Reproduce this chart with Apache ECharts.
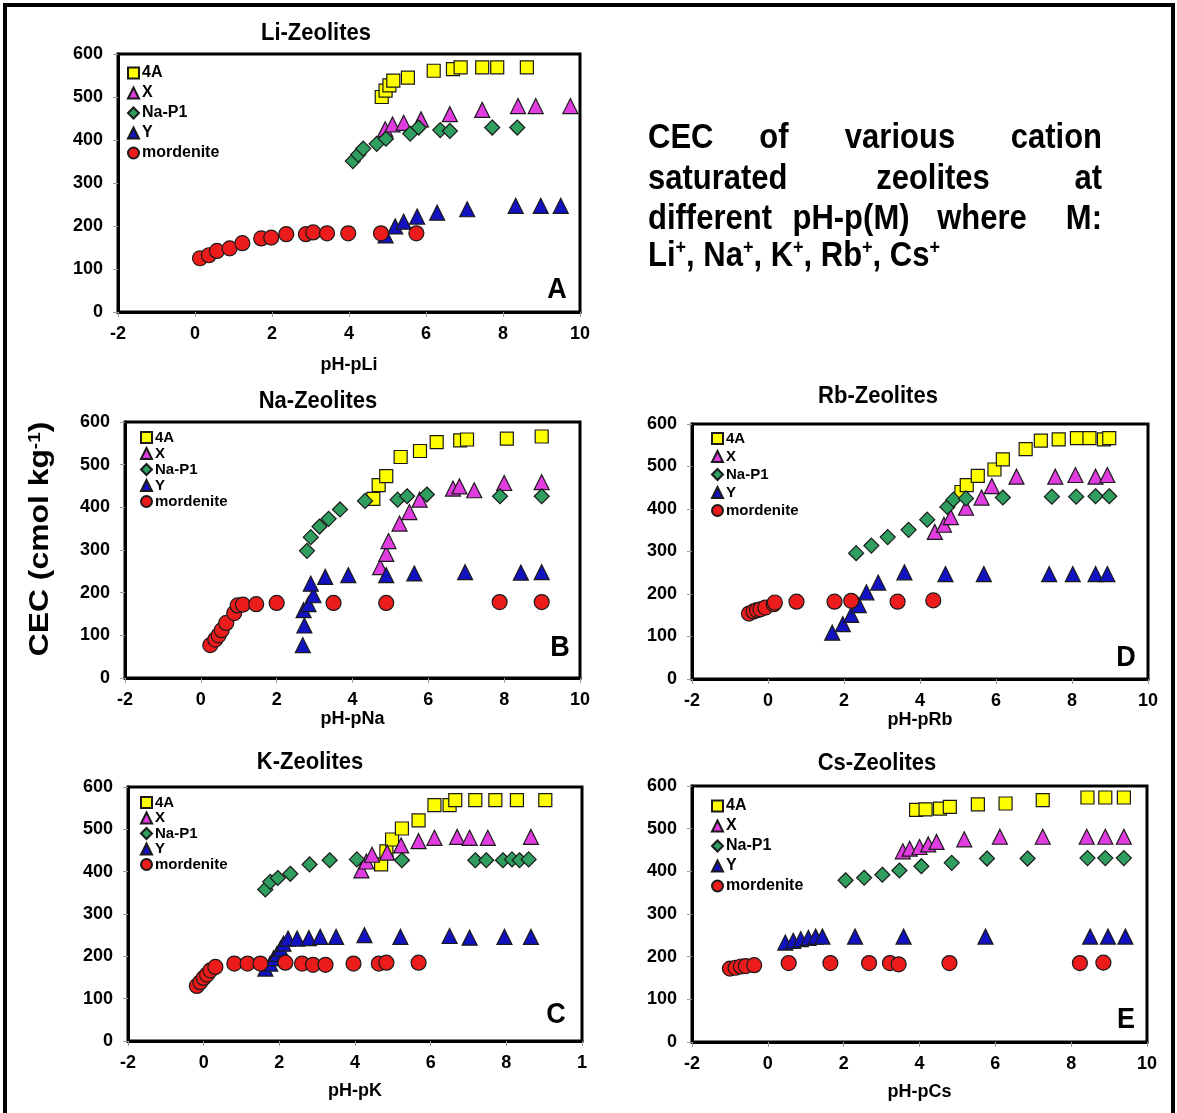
<!DOCTYPE html>
<html><head><meta charset="utf-8">
<script src="https://cdn.jsdelivr.net/npm/echarts@6/dist/echarts.min.js"></script>
<style>html,body{margin:0;padding:0;background:#fff}#c{width:1177px;height:1113px}</style>
</head><body><div id="c"></div>
<script>
// ---------------- DATA ----------------
const seriesNames = ['4A', 'X', 'Na-P1', 'Y', 'mordenite'];
const xTicks = [-2, 0, 2, 4, 6, 8, 10];
const yTicks = [0, 100, 200, 300, 400, 500, 600];

// Panel A : Li-Zeolites
const li4A   = [[4.85,500],[4.95,515],[5.05,527],[5.15,538],[5.53,545],[6.2,561],[6.7,565],[6.9,569],[7.46,569],[7.85,569],[8.62,569]];
const liX    = [[4.94,425],[5.13,436],[5.42,440],[5.87,448],[6.62,460],[7.46,470],[8.39,479],[8.85,479],[9.75,479]];
const liNaP1 = [[4.1,351],[4.24,366],[4.37,380],[4.72,391],[4.96,403],[5.59,415],[5.81,429],[6.37,423],[6.62,421],[7.72,429],[8.37,429]];
const liY    = [[4.95,178],[5.2,199],[5.42,210],[5.77,222],[6.29,231],[7.07,239],[8.33,247],[8.98,247],[9.5,247]];
const liMord = [[0.13,125],[0.36,132],[0.57,142],[0.9,148],[1.23,160],[1.72,171],[1.98,173],[2.37,181],[2.88,181],[3.07,185],[3.43,183],[3.98,183],[4.83,183],[5.75,183]];

// Panel B : Na-Zeolites
const na4A   = [[4.55,420],[4.69,452],[4.89,473],[5.27,518],[5.78,532],[6.22,553],[6.84,557],[7.02,559],[8.07,561],[8.99,566]];
const naX    = [[4.73,260],[4.89,291],[4.95,321],[5.24,362],[5.5,389],[5.77,418],[6.65,444],[6.82,449],[7.21,440],[8.0,457],[8.99,459]];
const naNaP1 = [[2.8,298],[2.9,330],[3.13,355],[3.37,373],[3.67,395],[4.33,415],[5.19,418],[5.44,426],[5.96,430],[7.89,426],[8.99,426]];
const naY    = [[2.69,77],[2.73,123],[2.71,159],[2.84,173],[2.97,194],[2.9,221],[3.28,237],[3.89,241],[4.89,241],[5.63,245],[6.97,248],[8.44,247],[8.99,248]];
const naMord = [[0.25,77],[0.38,90],[0.47,100],[0.55,112],[0.67,129],[0.88,152],[0.97,170],[1.11,172],[1.46,173],[2.0,176],[3.5,176],[4.89,176],[7.88,178],[8.99,178]];

// Panel C : K-Zeolites
const k4A   = [[4.69,417],[4.83,448],[4.98,476],[5.24,502],[5.68,521],[6.1,557],[6.5,557],[6.65,569],[7.18,569],[7.71,569],[8.28,569],[9.03,569]];
const kX    = [[4.17,403],[4.3,424],[4.45,440],[4.85,445],[5.22,462],[5.68,472],[6.1,480],[6.7,482],[7.03,480],[7.51,480],[8.65,482]];
const kNaP1 = [[1.63,358],[1.76,376],[1.96,385],[2.29,395],[2.8,417],[3.33,427],[4.05,429],[5.24,427],[7.18,427],[7.47,427],[7.91,427],[8.15,429],[8.35,427],[8.59,429]];
const kY    = [[1.63,171],[1.76,183],[1.85,196],[1.94,206],[2.03,218],[2.11,230],[2.23,242],[2.47,242],[2.78,243],[3.08,246],[3.5,246],[4.25,250],[5.2,246],[6.5,248],[7.03,244],[7.95,246],[8.65,246]];
const kMord = [[-0.18,130],[-0.09,139],[0,149],[0.09,157],[0.18,167],[0.31,175],[0.81,183],[1.16,183],[1.5,183],[2.16,185],[2.6,183],[2.89,180],[3.22,180],[3.96,183],[4.63,183],[4.83,185],[5.68,185]];

// Panel D : Rb-Zeolites
const rb4A   = [[5.09,440],[5.23,456],[5.52,478],[5.96,493],[6.18,517],[6.78,541],[7.18,561],[7.65,564],[8.13,567],[8.46,567],[8.84,564],[8.98,567]];
const rbX    = [[4.39,346],[4.63,363],[4.81,381],[5.21,403],[5.62,427],[5.89,454],[6.54,476],[7.56,476],[8.09,480],[8.62,476],[8.93,480]];
const rbNaP1 = [[2.32,296],[2.72,314],[3.15,334],[3.7,351],[4.19,375],[4.72,405],[4.88,422],[5.21,425],[6.18,427],[7.47,429],[8.11,429],[8.62,430],[8.98,430]];
const rbY    = [[1.69,109],[1.97,129],[2.19,151],[2.39,174],[2.59,204],[2.9,227],[3.59,251],[4.67,247],[5.68,247],[7.4,247],[8.02,247],[8.62,247],[8.93,247]];
const rbMord = [[-0.5,154],[-0.38,159],[-0.29,162],[-0.2,164],[-0.07,168],[0.15,176],[0.18,180],[0.75,182],[1.75,182],[2.19,184],[3.41,182],[4.35,185]];

// Panel E : Cs-Zeolites
const cs4A   = [[3.91,544],[4.16,545],[4.54,547],[4.8,551],[5.54,557],[6.27,559],[7.25,567],[8.43,573],[8.9,573],[9.39,573]];
const csX    = [[3.56,447],[3.74,453],[4.0,457],[4.23,463],[4.45,469],[5.18,475],[6.12,481],[7.25,481],[8.41,481],[8.9,481],[9.39,481]];
const csNaP1 = [[2.05,379],[2.54,385],[3.02,392],[3.47,402],[4.05,412],[4.85,420],[5.78,430],[6.85,430],[8.43,431],[8.9,431],[9.39,431]];
const csY    = [[0.46,233],[0.67,237],[0.87,241],[1.07,244],[1.26,247],[1.44,247],[2.3,247],[3.58,247],[5.74,247],[8.5,247],[8.97,247],[9.43,247]];
const csMord = [[-1.0,172],[-0.85,174],[-0.71,177],[-0.58,178],[-0.36,180],[0.55,185],[1.65,185],[2.67,185],[3.22,185],[3.45,182],[4.79,185],[8.23,185],[8.85,186]];

const panelTitles = ['Li-Zeolites', 'Na-Zeolites', 'Rb-Zeolites', 'K-Zeolites', 'Cs-Zeolites'];
const panelXNames = ['pH-pLi', 'pH-pNa', 'pH-pRb', 'pH-pK', 'pH-pCs'];
const panelLetters = ['A', 'B', 'D', 'C', 'E'];
const panelData = [
  [li4A, liX, liNaP1, liY, liMord],
  [na4A, naX, naNaP1, naY, naMord],
  [rb4A, rbX, rbNaP1, rbY, rbMord],
  [k4A, kX, kNaP1, kY, kMord],
  [cs4A, csX, csNaP1, csY, csMord]
];
const yAxisTitle = 'CEC (cmol kg';

// ---------------- LAYOUT / STYLE ----------------
const FF = '"Liberation Sans", Arial, sans-serif';
const layout = [
  {grid:[118,54,462,258],  title:[316,33],  letter:[557,290],  legend:[127,65,4,16],  nameGap:44},
  {grid:[125,422,455,256], title:[318,401], letter:[560,648],  legend:[140,430,1,15], nameGap:30},
  {grid:[692,424,456,255], title:[878,396], letter:[1126,658], legend:[711,431,3,15], nameGap:30},
  {grid:[128,787,454,254], title:[310,762], letter:[556,1015], legend:[140,795,0.5,15], nameGap:41},
  {grid:[692,786,455,256], title:[877,763], letter:[1126,1020],legend:[711,798,4,16], nameGap:41}
];
const markStyles = [
  {symbol:'rect',     color:'#ffff00', size:13},
  {symbol:'triangle', color:'#e03ce0', size:15},
  {symbol:'diamond',  color:'#2f9e5f', size:15},
  {symbol:'triangle', color:'#1212c0', size:15},
  {symbol:'circle',   color:'#ec1c1c', size:15}
];

const grids = [], xAxes = [], yAxes = [], series = [], legends = [], graphics = [];
const axisLabelStyle = {fontSize:18, fontWeight:'bold', color:'#000', fontFamily:FF};

layout.forEach((L, i) => {
  grids.push({left:L.grid[0], top:L.grid[1], width:L.grid[2], height:L.grid[3],
    show:true, borderColor:'#000', borderWidth:3, containLabel:false});
  xAxes.push({gridIndex:i, type:'value', min:xTicks[0], max:xTicks[xTicks.length-1], interval:xTicks[1]-xTicks[0],
    axisLine:{show:true, onZero:false, lineStyle:{color:'#000', width:3}},
    axisTick:{show:true, length:5, lineStyle:{color:'#9a9a9a', width:1}},
    splitLine:{show:false},
    axisLabel:Object.assign({margin:13, formatter: v => (i === 3 && v === 10) ? '1' : String(v)}, axisLabelStyle),
    name:panelXNames[i], nameLocation:'middle', nameGap:L.nameGap,
    nameTextStyle:{fontSize:18, fontWeight:'bold', color:'#000', fontFamily:FF}});
  yAxes.push({gridIndex:i, type:'value', min:yTicks[0], max:yTicks[yTicks.length-1], interval:yTicks[1]-yTicks[0],
    axisLine:{show:true, onZero:false, lineStyle:{color:'#000', width:3}},
    axisTick:{show:true, length:5, lineStyle:{color:'#9a9a9a', width:1}},
    splitLine:{show:false},
    axisLabel:Object.assign({margin:15}, axisLabelStyle)});
  panelData[i].forEach((d, s) => {
    const m = markStyles[s];
    series.push({type:'scatter', name:seriesNames[s], xAxisIndex:i, yAxisIndex:i, data:d,
      symbol:m.symbol, symbolSize:m.size, z:2+s,
      itemStyle:{color:m.color, borderColor:'#1a1a1a', borderWidth:1.2, opacity:1},
      emphasis:{disabled:true}});
  });
  legends.push({data:seriesNames, orient:'vertical', left:L.legend[0], top:L.legend[1], padding:0,
    itemGap:L.legend[2], itemWidth:11, itemHeight:11, selectedMode:false,
    textStyle:{fontSize:L.legend[3], fontWeight:'bold', color:'#000', fontFamily:FF, lineHeight:12, padding:[0,0,0,-2]}});
  graphics.push({type:'text', x:L.title[0], y:L.title[1], scaleY:1.12,
    style:{text:panelTitles[i], fontSize:22, fontWeight:'bold', fontFamily:FF, fill:'#000', align:'center', verticalAlign:'middle'}});
  graphics.push({type:'text', x:L.letter[0], y:L.letter[1], scaleY:1.1,
    style:{text:panelLetters[i], fontSize:27, fontWeight:'bold', fontFamily:FF, fill:'#000', align:'center', verticalAlign:'middle'}});
});

// outer frame
graphics.push({type:'rect', shape:{x:5, y:5, width:1168, height:1200},
  style:{fill:'none', stroke:'#000', lineWidth:4}, z:100});

// shared y axis title
graphics.push({type:'text', x:41, y:539, rotation:Math.PI/2, scaleX:1.18,
  style:{text:yAxisTitle + '{sup|-1}' + ')', fontSize:27, fontWeight:'bold', fontFamily:FF, fill:'#000',
    align:'center', verticalAlign:'middle',
    rich:{sup:{fontSize:16, fontWeight:'bold', fontFamily:FF, fill:'#000', verticalAlign:'top'}}}});

// justified description text
const descWords = [
  {t:'CEC', x:648, y:138, a:'left'}, {t:'of', x:774, y:138, a:'center'}, {t:'various', x:900, y:138, a:'center'}, {t:'cation', x:1102, y:138, a:'right'},
  {t:'saturated', x:648, y:179, a:'left'}, {t:'zeolites', x:933, y:179, a:'center'}, {t:'at', x:1102, y:179, a:'right'},
  {t:'different', x:648, y:219, a:'left'}, {t:'pH-p(M)', x:851, y:219, a:'center'}, {t:'where', x:982, y:219, a:'center'}, {t:'M:', x:1102, y:219, a:'right'},
  {t:'Li{s|+}, Na{s|+}, K{s|+}, Rb{s|+}, Cs{s|+}', x:648, y:256, a:'left'}
];
descWords.forEach(w => {
  graphics.push({type:'text', x:w.x, y:w.y, scaleY:1.15,
    style:{text:w.t, fontSize:31, fontWeight:'bold', fontFamily:FF, fill:'#000', align:w.a, verticalAlign:'middle',
      rich:{s:{fontSize:18, fontWeight:'bold', fontFamily:FF, fill:'#000', verticalAlign:'top'}}}});
});

const chart = echarts.init(document.getElementById('c'), null, {renderer:'canvas'});
chart.setOption({
  backgroundColor:'#fff', animation:false,
  grid:grids, xAxis:xAxes, yAxis:yAxes, series:series, legend:legends, graphic:graphics
});
</script></body></html>
